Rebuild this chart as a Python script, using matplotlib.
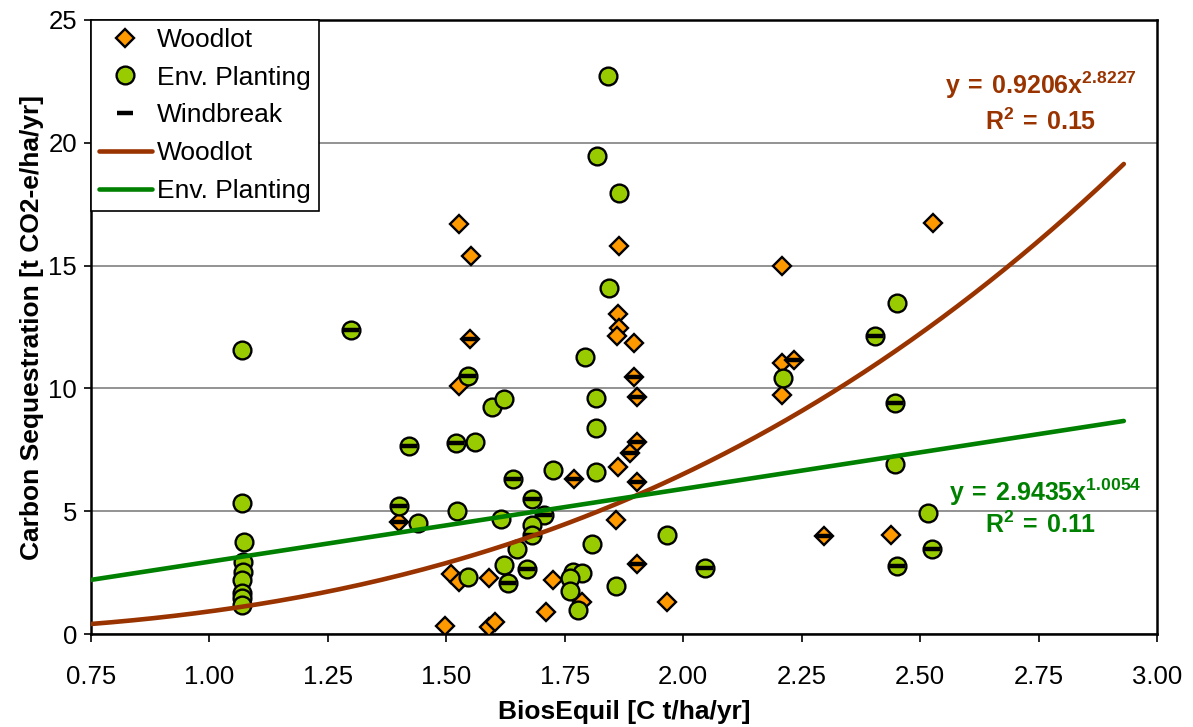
import matplotlib
matplotlib.use("Agg")
import matplotlib.pyplot as plt
import numpy as np

plt.rcParams['font.family'] = ['Liberation Sans', 'DejaVu Sans']
plt.rcParams['mathtext.fontset'] = 'custom'
plt.rcParams['mathtext.rm'] = 'Liberation Sans'
plt.rcParams['mathtext.bf'] = 'Liberation Sans:bold'

# ---- data ----
woodlot_x = [1.526, 1.551, 1.549, 1.526, 1.509, 1.526, 1.591, 1.498, 1.591, 1.602,
             1.725, 1.710, 1.769, 1.862, 1.858, 1.902, 1.887, 1.902, 1.902, 1.966,
             1.786, 1.864, 1.862, 1.864, 1.860, 1.896, 1.896, 1.902, 2.528, 2.209,
             2.209, 2.234, 2.209, 2.298, 2.439, 1.401]
woodlot_y = [16.69, 15.39, 12.01, 10.10, 2.44, 2.12, 2.28, 0.33, 0.29, 0.49,
             2.20, 0.90, 6.31, 6.80, 4.64, 6.19, 7.37, 7.82, 2.85, 1.30,
             1.30, 15.80, 13.03, 12.46, 12.13, 11.85, 10.46, 9.65, 16.73, 14.98,
             11.03, 11.16, 9.73, 3.99, 4.03, 4.56]

env_x = [1.069, 1.069, 1.073, 1.071, 1.071, 1.069, 1.069, 1.069, 1.069,
         1.298, 1.422, 1.520, 1.560, 1.596, 1.621, 1.640, 1.725, 1.401, 1.441,
         1.522, 1.615, 1.680, 1.706, 1.680, 1.680, 1.649, 1.621, 1.670, 1.630,
         1.545, 1.545,
         1.843, 1.792, 1.816, 1.816, 1.816, 1.807, 1.858, 1.966,
         1.767, 1.786, 1.762, 1.760, 1.777,
         1.841, 1.818, 1.864,
         2.452, 2.405, 2.211, 2.446, 2.446, 2.517, 2.526, 2.452, 2.046]
env_y = [11.56, 5.33, 3.75, 2.93, 2.52, 2.20, 1.67, 1.45, 1.20,
         12.38, 7.65, 7.78, 7.82, 9.24, 9.57, 6.31, 6.68, 5.21, 4.52,
         5.01, 4.68, 5.50, 4.85, 4.44, 4.03, 3.46, 2.81, 2.65, 2.08,
         2.32, 10.50,
         14.09, 11.28, 9.61, 8.39, 6.60, 3.66, 1.95, 4.03,
         2.52, 2.48, 2.30, 1.75, 0.98,
         22.72, 19.46, 17.96,
         13.48, 12.13, 10.42, 9.41, 6.92, 4.93, 3.46, 2.77, 2.69]

windbreak_x = [1.549, 1.769, 1.902, 1.887, 1.902, 1.902, 1.896, 1.902, 2.234, 2.298, 1.401,
               1.298, 1.422, 1.520, 1.640, 1.401, 1.680, 1.706, 1.680, 1.670, 1.630, 1.545,
               2.405, 2.446, 2.526, 2.452, 2.046]
windbreak_y = [12.01, 6.31, 6.19, 7.37, 7.82, 2.85, 10.46, 9.65, 11.16, 3.99, 4.56,
               12.38, 7.65, 7.78, 6.31, 5.21, 5.50, 4.85, 4.03, 2.65, 2.08, 10.50,
               12.13, 9.41, 3.46, 2.77, 2.69]

# power trendlines shown in the chart: y = a * x^b
woodlot_fit = (0.9206, 2.8227, 0.15)
env_fit = (2.9435, 1.0054, 0.11)
fit_range = (0.75, 2.93)

x_ticks = [0.75, 1.00, 1.25, 1.50, 1.75, 2.00, 2.25, 2.50, 2.75, 3.00]
y_ticks = [0, 5, 10, 15, 20, 25]

# ---- figure ----
fig = plt.figure(figsize=(11.93, 7.27), dpi=100)
ax = fig.add_axes([0.0763, 0.1279, 0.8935, 0.8446])

c_orange = '#FF9900'
c_green = '#99CC00'
c_brown = '#993300'
c_gline = '#008000'

ax.plot(woodlot_x, woodlot_y, linestyle='none', marker='D', markersize=9.4,
        markerfacecolor=c_orange, markeredgecolor='black', markeredgewidth=1.7,
        label='Woodlot', zorder=3)
ax.plot(env_x, env_y, linestyle='none', marker='o', markersize=12.8,
        markerfacecolor=c_green, markeredgecolor='black', markeredgewidth=1.7,
        label='Env. Planting', zorder=4)
ax.plot(windbreak_x, windbreak_y, linestyle='none', marker='_', markersize=12,
        markeredgecolor='black', markeredgewidth=3.2, label='Windbreak', zorder=5)

xs = np.linspace(fit_range[0], fit_range[1], 200)
ax.plot(xs, woodlot_fit[0] * xs ** woodlot_fit[1], color=c_brown, lw=3.3,
        label='Woodlot', zorder=6, solid_capstyle='round')
ax.plot(xs, env_fit[0] * xs ** env_fit[1], color=c_gline, lw=3.3,
        label='Env. Planting', zorder=6, solid_capstyle='round')

ax.set_xlim(0.75, 3.00)
ax.set_ylim(0, 25)
ax.set_xticks(x_ticks)
ax.set_xticklabels([f'{v:.2f}' for v in x_ticks])
ax.set_yticks(y_ticks)
ax.tick_params(axis='both', labelsize=18.5, direction='out', width=1.2, colors='black')
ax.tick_params(axis='x', length=6, pad=16)
ax.tick_params(axis='y', length=5, pad=5)

ax.yaxis.grid(True, color='#808080', linewidth=1.2)
ax.set_axisbelow(True)
for s in ax.spines.values():
    s.set_color('black')
    s.set_linewidth(1.8)

ax.set_xlabel('BiosEquil [C t/ha/yr]', fontsize=19, fontweight='bold', labelpad=8)
ax.set_ylabel('Carbon Sequestration [t CO2-e/ha/yr]', fontsize=19, fontweight='bold', labelpad=3)

leg = ax.legend(loc='upper left', fontsize=19, frameon=True, fancybox=False,
                borderaxespad=0, edgecolor='black', framealpha=1, handlelength=2.0,
                handletextpad=0.2, labelspacing=0.52, borderpad=0.3, numpoints=1)
leg.get_frame().set_linewidth(1.2)

ax.text(2.754, 22.35, r'$\mathbf{y\,=\,%.4fx^{%.4f}}$' % (woodlot_fit[0], woodlot_fit[1]),
        color=c_brown, fontsize=18, ha='center', va='center', zorder=7)
ax.text(2.754, 20.85, r'$\mathbf{R^{2}\,=\,%.2f}$' % woodlot_fit[2],
        color=c_brown, fontsize=18, ha='center', va='center', zorder=7)
ax.text(2.765, 5.78, r'$\mathbf{y\,=\,%.4fx^{%.4f}}$' % (env_fit[0], env_fit[1]),
        color=c_gline, fontsize=18, ha='center', va='center', zorder=7)
ax.text(2.754, 4.44, r'$\mathbf{R^{2}\,=\,%.2f}$' % env_fit[2],
        color=c_gline, fontsize=18, ha='center', va='center', zorder=7)

fig.savefig('out.png', dpi=100)
